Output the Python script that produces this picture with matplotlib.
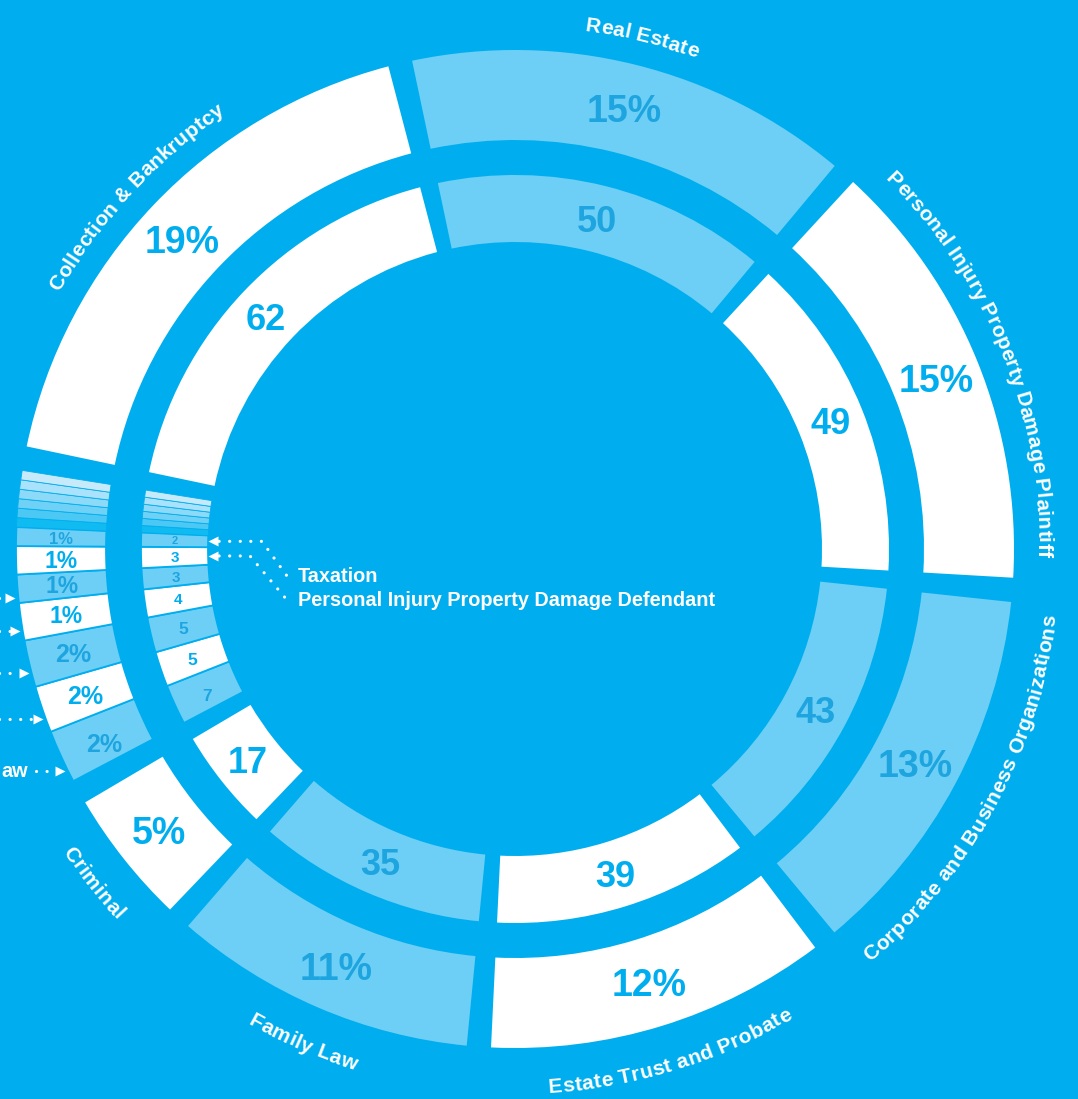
import numpy as np
import matplotlib
matplotlib.use("Agg")
import matplotlib.pyplot as plt
from matplotlib.patches import Wedge

# data, clockwise from the top
names = ["Real Estate", "Personal Injury Property Damage Plaintiff",
         "Corporate and Business Organizations", "Estate Trust and Probate",
         "Family Law", "Criminal", "aw", "", "", "", "",
         "Personal Injury Property Damage Defendant", "Taxation",
         "", "", "", "", "", "", "Collection & Bankruptcy"]
counts = [50, 49, 43, 39, 35, 17, 7, 5, 5, 4, 3, 3, 2, 1, 1, 1, 1, 1, 1, 62]
pct_labels = ["15%", "15%", "13%", "12%", "11%", "5%", "2%", "2%", "2%", "1%",
              "1%", "1%", "1%", "", "", "", "", "", "", "19%"]

BG = "#00AEEF"
LIGHT = "#6DCFF6"
WHITE = "#FFFFFF"
TXT_W = "#00AEEF"
TXT_L = "#1EA5DF"
stripe_cols = ["#10BBF2", "#4CC8F4", "#6FD1F6", "#8DD9F8", "#A9E2FA", "#C7EAFB"]

W, H = 1078, 1099
cx, cy = 515, H - 549
r_in0, r_in1 = 307, 374
r_out0, r_out1 = 409, 499
start = 103.3
gap = 2.8
small = set(range(6, 19))  # the thin-separated group
FONT = "Liberation Sans"

fig = plt.figure(figsize=(W / 100, H / 100), dpi=100)
fig.patch.set_facecolor(BG)
ax = fig.add_axes([0, 0, 1, 1])
ax.set_xlim(0, W)
ax.set_ylim(0, H)
ax.axis("off")
renderer = fig.canvas.get_renderer()

k = 360.0 / sum(counts)
n = len(counts)
mids = []
a = start
for i, v in enumerate(counts):
    b = a - v * k
    mids.append((a + b) / 2)
    # wide gaps between the big slices, thin lines inside the small group
    if i in small:
        t2 = a - (0 if (i - 1) in small else gap / 2)
        t1 = b
    elif i == 19:
        t2 = a - gap
        t1 = b + gap / 2
    else:
        t2 = a - gap / 2
        t1 = b + gap / 2
    if 13 <= i <= 18:
        col = stripe_cols[i - 13]
        lw = 0.6
    else:
        col = LIGHT if i % 2 == 0 else WHITE
        lw = 1.3 if i in small else 0
    for r0, r1 in [(r_in0, r_in1), (r_out0, r_out1)]:
        ax.add_patch(Wedge((cx, cy), r1, t1, t2, width=r1 - r0, facecolor=col,
                           edgecolor=BG, linewidth=lw))
    a = b


def polar(r, ang):
    t = np.radians(ang)
    return cx + r * np.cos(t), cy + r * np.sin(t)


def centred(x, y, s, fs, color):
    # put digits with their visual centre on (x, y)
    yb = y - 0.358 * fs * 100 / 72
    ax.text(x, yb, s, ha="center", va="baseline", fontsize=fs,
            fontweight="bold", color=color, family=FONT)


# numbers in the rings
for i, v in enumerate(counts):
    if 13 <= i <= 18:
        continue
    tc = TXT_L if i % 2 == 0 else TXT_W
    if i in small:
        fs_o = 12 if v <= 2 else (16.5 if v < 5 else 18)
        fs_i = 8 if v <= 2 else (11 if v <= 4 else 12.5)
    else:
        fs_o, fs_i = 27, 26
    x, y = polar((r_out0 + r_out1) / 2, mids[i])
    centred(x, y, pct_labels[i], fs_o, tc)
    x, y = polar((r_in0 + r_in1) / 2, mids[i])
    centred(x, y, str(v), fs_i, tc)


def char_w(ch, fs):
    def w(s):
        t = ax.text(0, 0, s, fontsize=fs, fontweight="bold", family=FONT)
        e = t.get_window_extent(renderer).width
        t.remove()
        return e
    return w("x" + ch + "x") - w("xx")


def arc_text(s, mid, r, fs=15, track=0.3):
    widths = [char_w(c, fs) + track for c in s]
    total = sum(widths) / r
    outward = np.sin(np.radians(mid)) >= 0
    cum = 0
    for c, w in zip(s, widths):
        off = np.degrees((cum + w / 2) / r)
        cum += w
        if outward:
            ang = mid + np.degrees(total) / 2 - off
            rot = ang - 90
            rb = r - 7
        else:
            ang = mid - np.degrees(total) / 2 + off
            rot = ang + 90
            rb = r + 7
        x, y = polar(rb, ang)
        ax.text(x, y, c, ha="center", va="baseline", rotation=rot,
                rotation_mode="anchor", fontsize=fs, fontweight="bold",
                color="white", family=FONT)


for i in [0, 1, 2, 3, 4, 5, 19]:
    outward = np.sin(np.radians(mids[i])) >= 0
    arc_text(names[i], mids[i], 530 if outward else 538)

# dotted callouts on the left edge
dot = dict(color="white", lw=2.3, linestyle=(0, (0.01, 3.3)),
           dash_capstyle="round")
for i in [10, 9, 8, 7, 6]:
    tx, ty = polar(r_out1 + 3, mids[i] + 1.0)
    x0 = 36 if names[i] else -5
    ax.plot([x0, tx - 10], [ty, ty], **dot)
    ax.plot(tx - 5, ty, marker=">", ms=7, color="white", mec="none")
    if names[i]:
        ax.text(1, ty, names[i], ha="left", va="center", fontsize=14.3,
                fontweight="bold", color="white", family=FONT)

# Taxation / PI defendant callouts to the inner ring
for i, elbow, ty in [(12, 262, H - 576), (11, 250, H - 600)]:
    tx, tyy = polar(r_in0, mids[i])
    ax.plot([tx + 11, elbow, 287], [tyy, tyy, ty], **dot)
    ax.plot(tx + 5, tyy, marker="<", ms=7, color="white", mec="none")
    ax.text(298, ty, names[i], ha="left", va="center", fontsize=14.3,
            fontweight="bold", color="white", family=FONT)

fig.savefig("out.png", dpi=100, facecolor=BG)
